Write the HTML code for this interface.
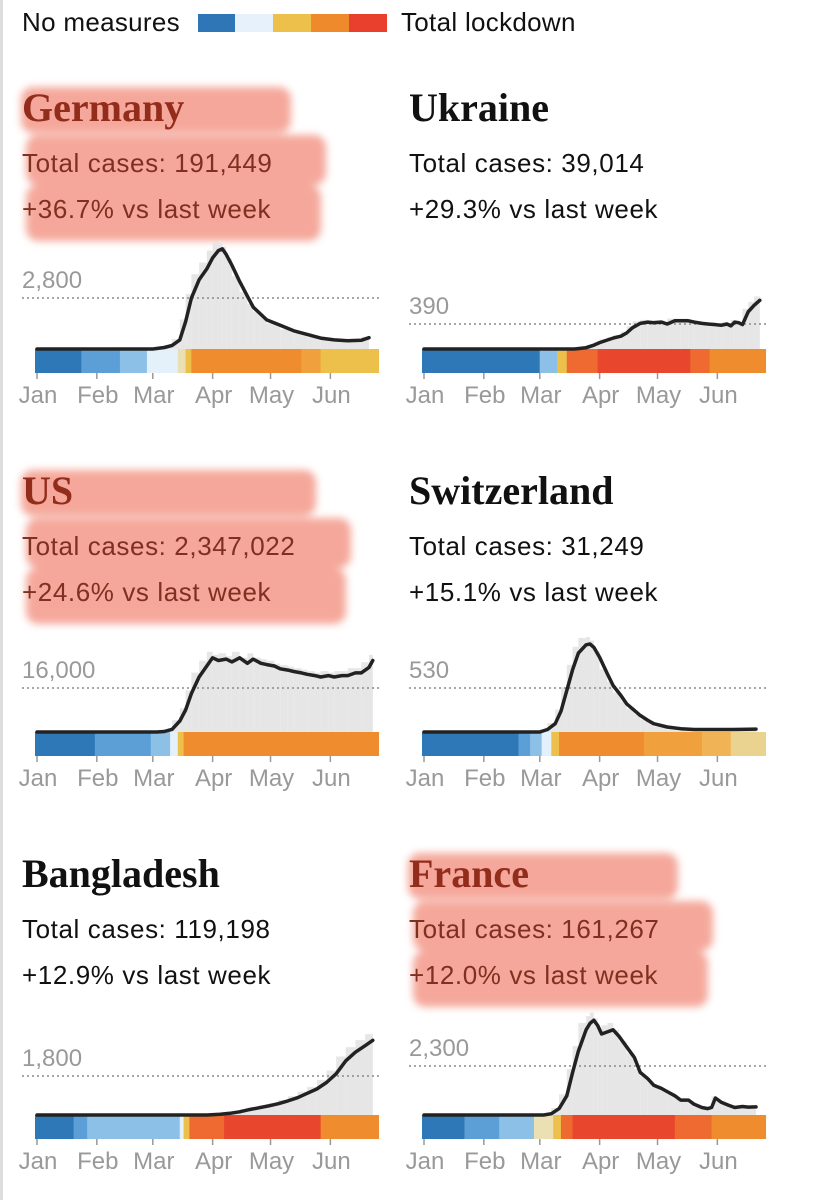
<!DOCTYPE html>
<html><head><meta charset="utf-8"><style>
body{margin:0;background:#fff;width:816px;height:1200px;overflow:hidden;font-family:"Liberation Sans",sans-serif}
svg{position:absolute;left:0;top:0}
</style></head><body>
<svg id="c" width="816" height="1200" viewBox="0 0 816 1200">
<defs><filter id="blur" x="-10%" y="-30%" width="120%" height="160%"><feGaussianBlur stdDeviation="4"/></filter></defs>
<rect x="0" y="0" width="3" height="1200" fill="#ddd"/>
<g>
<text x="22" y="31" font-size="26" letter-spacing="0.3" fill="#111">No measures</text>
<rect x="198" y="14" width="37" height="18" fill="#2f76b6"/>
<rect x="235" y="14" width="38" height="18" fill="#e6f1fb"/>
<rect x="273" y="14" width="38" height="18" fill="#ecc04b"/>
<rect x="311" y="14" width="38" height="18" fill="#ee8a2c"/>
<rect x="349" y="14" width="38" height="18" fill="#e9402e"/>
<text x="401" y="31" font-size="26" letter-spacing="0.3" fill="#111">Total lockdown</text>
</g>
</svg>
<script>
const months=["Jan","Feb","Mar","Apr","May","Jun"];
const monthDays=[0,31,60,91,121,152];
const countries=["Germany","Ukraine","US","Switzerland","Bangladesh","France"];
const totals=["191,449","39,014","2,347,022","31,249","119,198","161,267"];
const changes=["+36.7%","+29.3%","+24.6%","+15.1%","+12.9%","+12.0%"];
const refValues=[2800,390,16000,530,1800,2300];
const refLabels=["2,800","390","16,000","530","1,800","2,300"];
const highlighted=[true,false,true,false,false,true];
const daysDE=[0,60,66,70,74,77,80,84,88,91,94,96,98,101,105,109,112,116,119,126,133,140,147,154,161,168,172];
const valsDE=[0,0,80,200,500,1500,2800,3800,4400,5000,5400,5500,5200,4600,3700,2900,2300,1900,1600,1300,1000,800,600,500,450,480,620];
const daysUA=[0,78,84,88,91,95,98,102,105,108,112,116,119,123,126,130,133,137,140,144,147,151,154,157,159,161,163,165,168,171,174];
const valsUA=[0,0,20,60,100,140,170,200,250,330,400,420,410,420,390,440,440,440,420,400,390,380,370,390,360,420,410,380,580,680,760];
const daysUS=[0,62,66,70,74,77,80,84,88,91,94,98,101,105,109,112,116,119,123,126,130,133,137,140,144,147,151,154,158,161,165,168,172,174];
const valsUS=[0,0,200,1000,4000,8000,14000,20000,24000,27000,26000,26500,25500,27000,25000,26500,25000,24500,24000,23000,22500,22000,21500,21000,20500,20000,20500,20000,20500,20500,21500,21500,23500,26000];
const daysCH=[0,60,64,68,71,74,77,80,84,86,88,91,95,98,102,105,109,112,116,119,126,133,140,150,160,172];
const valsCH=[0,0,30,100,250,500,750,950,1050,1060,1020,900,700,560,440,340,260,200,140,100,60,40,30,30,30,35];
const daysBD=[0,88,95,100,105,110,115,120,125,130,135,140,145,150,155,160,165,170,174];
const valsBD=[0,0,30,80,150,250,330,420,520,650,800,1000,1200,1500,1900,2500,2900,3200,3450];
const daysFR=[0,62,66,70,74,77,80,84,86,88,90,92,95,98,101,105,109,112,116,119,123,126,130,133,137,140,144,147,149,151,154,158,161,165,168,172];
const valsFR=[0,0,60,300,900,2000,3000,4000,4300,4450,4200,3800,3900,4000,3700,3200,2700,2000,1700,1400,1250,1100,900,700,700,500,350,300,350,800,600,450,350,400,370,380];
const allDays=[daysDE,daysUA,daysUS,daysCH,daysBD,daysFR];
const allVals=[valsDE,valsUA,valsUS,valsCH,valsBD,valsFR];
const stripDE=[[0,24,0],[24,44,1],[44,58,2],[58,60,3],[60,74,3],[74,78,4],[78,81,5],[81,138,6],[138,148,9],[148,178,5]];
const stripUA=[[0,61,0],[61,70,2],[70,75,5],[75,91,7],[91,139,8],[139,149,7],[149,178,6]];
const stripUS=[[0,31,0],[31,60,1],[60,70,2],[70,74,3],[74,77,5],[77,178,6]];
const stripCH=[[0,50,0],[50,56,1],[56,62,2],[62,67,3],[67,71,5],[71,115,6],[115,145,9],[145,160,10],[160,178,11]];
const stripBD=[[0,20,0],[20,27,1],[27,75,2],[75,77,3],[77,80,5],[80,98,7],[98,148,8],[148,178,6]];
const stripFR=[[0,22,0],[22,40,1],[40,58,2],[58,68,4],[68,72,5],[72,78,7],[78,131,8],[131,150,7],[150,178,6]];
const strips=[stripDE,stripUA,stripUS,stripCH,stripBD,stripFR];
const levelColors=["#2f78b8","#5b9fd6","#8cc0e6","#e4f0fa","#ebe0b4","#ecc04b","#ef8c2e","#ee6a30","#e8462d","#f0a03c","#f0b457","#ead390"];

const svg=document.getElementById('c');
const NS="http://www.w3.org/2000/svg";
function mk(tag,attrs,parent){const e=document.createElementNS(NS,tag);for(const k in attrs)e.setAttribute(k,attrs[k]);(parent||svg).appendChild(e);return e;}
const colX=[37,424], rowY=[0,383,766];
const refPx=[51,25,44,44,39,49];
const PXD=1.93;
countries.forEach((name,i)=>{
  const col=i%2,row=Math.floor(i/2);
  const x0=colX[col], oy=rowY[row];
  const g=mk('g',{});
  
  
  const xs=d=>x0+d*PXD;
  const base=349+oy;
  const ys=v=>base-v*refPx[i]/refValues[i];
  if(highlighted[i]){
    const hl=mk('g',{filter:'url(#blur)',opacity:'0.6'},g);
    
    
    const lx=x0-16;
    [[oy+87,270,46],[oy+135,300,50],[oy+185,295,56]].forEach((r,k)=>{
      mk('rect',{x:lx+(k?5:0),y:r[0],width:r[1]+(i==2?25:0),height:r[2],rx:12,fill:'#ee6e58'},hl);
    });
  }
  const tt=mk('text',{x:x0-15,y:oy+121,'font-family':'"Liberation Serif",serif','font-weight':'bold','font-size':'40',fill:highlighted[i]?'#922d1c':'#111'},g);
  tt.textContent=name;
  
  
  const t1=mk('text',{x:x0-15,y:oy+172,'font-size':'26','letter-spacing':'0.6',fill:highlighted[i]?'#7f3020':'#111'},g);
  t1.textContent='Total cases: '+totals[i];
  
  
  const t2=mk('text',{x:x0-15,y:oy+218,'font-size':'26','letter-spacing':'0.6',fill:highlighted[i]?'#7f3020':'#111'},g);
  t2.textContent=changes[i]+' vs last week';
  
  
  const ds=allDays[i], vs=allVals[i];
  for(let k=1;k<ds.length;k++){
    if(vs[k]<=0)continue;
    const b=mk('rect',{x:xs(ds[k-1]),y:ys(vs[k]*1.08),width:xs(ds[k])-xs(ds[k-1]),height:base-ys(vs[k]*1.08),fill:'#e6e6e6'},g);
    
    
  }
  const rl=mk('line',{x1:x0-15,x2:x0+343,y1:ys(refValues[i]),y2:ys(refValues[i]),stroke:'#888','stroke-width':'1.6','stroke-dasharray':'2 3'},g);
  
  
  const rt=mk('text',{x:x0-15,y:ys(refValues[i])-10,'font-size':'24',fill:'#999'},g);
  rt.textContent=refLabels[i];
  
  
  strips[i].forEach(s=>{
    const r=mk('rect',{x:xs(s[0])-2,y:base,width:(s[1]-s[0])*PXD+0.5,height:24,fill:levelColors[s[2]]},g);
    
    
  });
  const pts=ds.map((d,k)=>xs(d).toFixed(1)+','+ys(vs[k]).toFixed(1)).join(' ');
  const pl=mk('polyline',{points:pts,fill:'none',stroke:'#222','stroke-width':'3.5','stroke-linejoin':'round','stroke-linecap':'round'},g);
  
  
  months.forEach((m,k)=>{
    const tx=xs(monthDays[k]);
    const tk=mk('line',{x1:tx,x2:tx,y1:base+24,y2:base+30,stroke:'#999','stroke-width':'1.5'},g);
    
    
    const lb=mk('text',{x:tx+1,y:base+54,'font-size':'24',fill:'#999','text-anchor':'middle'},g);
    lb.textContent=m;
    
    
  });
});
</script>
</body></html>
